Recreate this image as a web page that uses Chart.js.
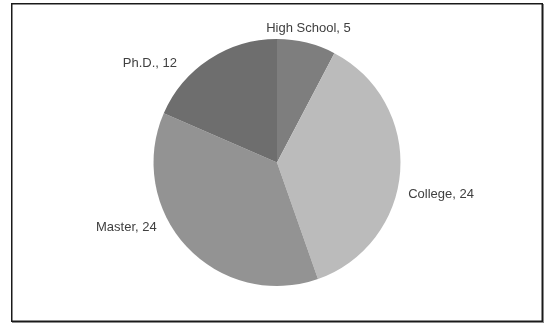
<!DOCTYPE html>
<html>
<head>
<meta charset="utf-8">
<script src="https://cdn.jsdelivr.net/npm/chart.js@4"></script>
<style>
  html, body { margin: 0; padding: 0; background: #ffffff; }
  #wrap { width: 545px; height: 324px; }
</style>
</head>
<body>
<div id="wrap"><canvas id="c" width="545" height="324"></canvas></div>
<script>
const categories = ["High School", "College", "Master", "Ph.D."];
const counts = [5, 24, 24, 12];
const sliceColors = ["#7e7e7e", "#bbbbbb", "#939393", "#6e6e6e"];

const framePlugin = {
  id: 'frame',
  beforeDraw(chart) {
    const ctx = chart.ctx;
    ctx.save();
    ctx.fillStyle = '#ffffff';
    ctx.fillRect(0, 0, chart.width, chart.height);
    // shadow on right/bottom
    ctx.strokeStyle = '#8a8a8a';
    ctx.lineWidth = 2;
    ctx.beginPath();
    ctx.moveTo(543, 4); ctx.lineTo(543, 322); ctx.lineTo(12, 322);
    ctx.stroke();
    // main frame
    ctx.strokeStyle = '#1a1a1a';
    ctx.lineWidth = 1.5;
    ctx.strokeRect(11.75, 3.75, 530.5, 317.5);
    ctx.restore();
  }
};

const labelPlugin = {
  id: 'sliceLabels',
  afterDatasetsDraw(chart, args, opts) {
    const ctx = chart.ctx;
    const meta = chart.getDatasetMeta(0);
    ctx.save();
    ctx.font = opts.font;
    ctx.fillStyle = opts.color;
    meta.data.forEach((arc, i) => {
      const p = arc.getProps(['x', 'y', 'startAngle', 'endAngle', 'outerRadius'], true);
      const mid = (p.startAngle + p.endAngle) / 2;
      const r = p.outerRadius + opts.gap;
      let ax = p.x + Math.cos(mid) * r;
      let ay = p.y + Math.sin(mid) * r;
      const n = opts.nudges[i] || [0, 0];
      ax += n[0]; ay += n[1];
      const c = Math.cos(mid), s = Math.sin(mid);
      let align = 'center', base = 'middle';
      if (Math.abs(c) < 0.35) { align = 'center'; base = s < 0 ? 'bottom' : 'top'; }
      else { align = c > 0 ? 'left' : 'right'; }
      ctx.textAlign = align;
      ctx.textBaseline = base;
      ctx.fillText(chart.data.labels[i] + ', ' + chart.data.datasets[0].data[i], ax, ay);
    });
    ctx.restore();
  }
};

new Chart(document.getElementById('c'), {
  type: 'pie',
  data: {
    labels: categories,
    datasets: [{
      data: counts,
      backgroundColor: sliceColors,
      borderColor: sliceColors,
      borderWidth: 0
    }]
  },
  options: {
    responsive: false,
    animation: false,
    devicePixelRatio: 1,
    layout: { padding: { left: 9, right: 0, top: 39, bottom: 38 } },
    plugins: {
      legend: { display: false },
      tooltip: { enabled: false },
      sliceLabels: {
        font: '13px "Liberation Sans", Arial, sans-serif',
        color: '#404040',
        gap: 8,
        nudges: [[0, 0], [0, 22], [-24, -25], [-28, 11]]
      }
    }
  },
  plugins: [framePlugin, labelPlugin]
});
</script>
</body>
</html>
